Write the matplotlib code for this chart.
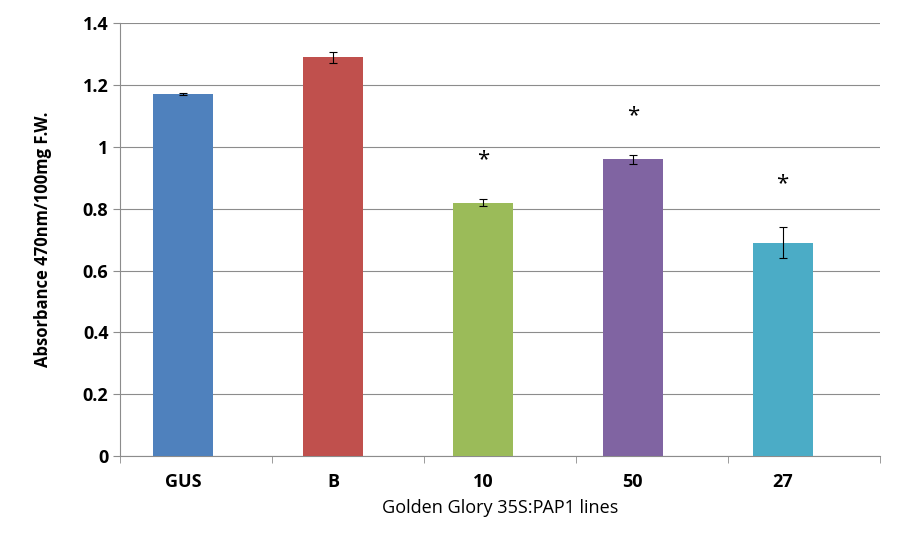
import matplotlib.pyplot as plt
import numpy as np

# Data
categories = ['GUS', 'B', '10', '50', '27']
values = [1.17, 1.29, 0.82, 0.96, 0.69]
errors = [0.003, 0.018, 0.012, 0.015, 0.05]
star_heights = [None, None, 0.96, 1.10, 0.88]
colors = ['#4F81BD', '#C0504D', '#9BBB59', '#8064A2', '#4BACC6']

plt.rcParams['font.family'] = 'Open Sans'

fig = plt.figure(figsize=(8.97, 5.41), dpi=100)
ax = fig.add_axes([0.134, 0.157, 0.847, 0.80])

x = np.arange(len(categories))
ax.bar(x, values, width=0.4, color=colors, zorder=3)
ax.errorbar(x, values, yerr=errors, fmt='none', ecolor='black',
            elinewidth=0.8, capsize=3, capthick=0.8, zorder=4)

for xi, h in zip(x, star_heights):
    if h is not None:
        ax.text(xi, h, '*', ha='center', va='center', fontsize=16)

ax.set_ylim(0, 1.4)
ax.set_yticks(np.arange(0, 1.41, 0.2))
ax.set_yticklabels(['0', '0.2', '0.4', '0.6', '0.8', '1', '1.2', '1.4'])
ax.set_xlim(-0.42, 4.65)
ax.set_xticks(x)
ax.set_xticklabels(categories)
ax.yaxis.grid(True, color='#8c8c8c', linewidth=0.8, zorder=0)

for lab in ax.get_xticklabels() + ax.get_yticklabels():
    lab.set_fontsize(13)
    lab.set_fontweight('bold')

ax.set_ylabel('Absorbance 470nm/100mg F.W.', fontsize=12, fontweight='bold', labelpad=22)
ax.set_xlabel('Golden Glory 35S:PAP1 lines', fontsize=13, labelpad=6)

for s in ['top', 'right']:
    ax.spines[s].set_visible(False)
ax.spines['left'].set_color('#8c8c8c')
ax.spines['bottom'].set_color('#8c8c8c')
ax.tick_params(axis='y', length=5, color='#8c8c8c')
ax.tick_params(axis='x', length=0, pad=12)
ax.set_xticks(np.arange(-0.42, 4.66, 1.014), minor=True)
ax.tick_params(axis='x', which='minor', length=5, color='#8c8c8c')

fig.savefig('out.png', dpi=100, facecolor='white')
